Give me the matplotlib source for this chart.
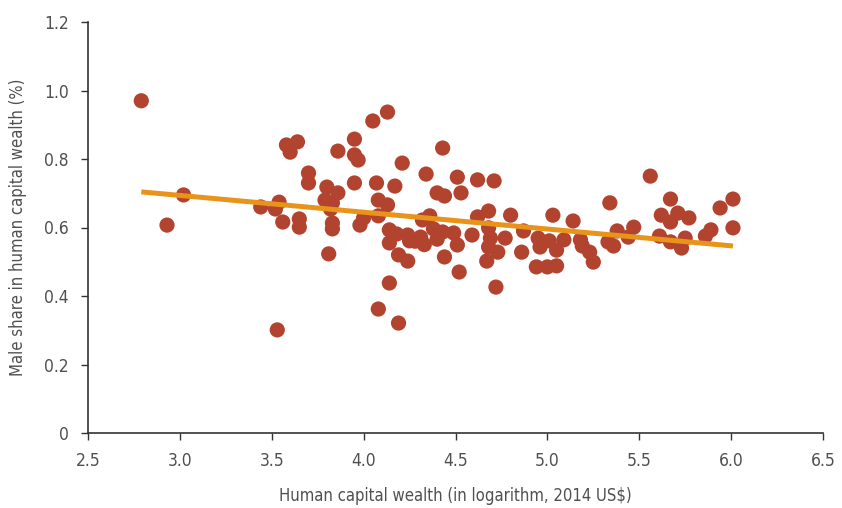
import matplotlib
matplotlib.use("Agg")
import matplotlib.pyplot as plt
from matplotlib import font_manager

# Data: human capital wealth (log, 2014 US$) vs male share in human capital wealth
hc_wealth_log = [
    2.79, 2.93, 3.02, 3.44, 3.52, 3.54, 3.56, 3.53, 3.58, 3.64,
    3.60, 3.65, 3.65, 3.70, 3.70, 3.80, 3.79, 3.82, 3.83, 3.81,
    3.83, 3.83, 3.86, 3.86, 3.95, 3.95, 3.97, 3.95, 3.98, 4.00,
    4.05, 4.07, 4.08, 4.08, 4.08, 4.13, 4.13, 4.14, 4.14, 4.14,
    4.17, 4.19, 4.19, 4.21, 4.18, 4.24, 4.25, 4.24, 4.31, 4.32,
    4.34, 4.36, 4.38, 4.40, 4.40, 4.44, 4.43, 4.43, 4.44, 4.49,
    4.51, 4.53, 4.51, 4.52, 4.59, 4.62, 4.68, 4.62, 4.71, 4.68,
    4.69, 4.68, 4.73, 4.67, 4.72, 4.77, 4.80, 4.86, 4.87, 4.94,
    5.00, 5.05, 4.95, 4.96, 5.01, 5.05, 5.09, 5.03, 5.14, 5.18,
    5.19, 5.23, 5.25, 5.34, 5.33, 5.36, 5.38, 5.44, 5.47, 5.56,
    5.61, 5.62, 5.67, 5.67, 5.67, 5.71, 5.75, 5.73, 5.77, 5.86,
    5.89, 5.94, 6.01, 6.01, 4.28, 4.33,
]
male_share = [
    0.97, 0.607, 0.695, 0.660, 0.654, 0.674, 0.616, 0.301, 0.841, 0.850,
    0.820, 0.625, 0.601, 0.759, 0.730, 0.718, 0.680, 0.654, 0.672, 0.523,
    0.613, 0.596, 0.701, 0.823, 0.858, 0.812, 0.797, 0.730, 0.607, 0.628,
    0.911, 0.730, 0.362, 0.680, 0.634, 0.937, 0.666, 0.593, 0.555, 0.438,
    0.721, 0.321, 0.520, 0.788, 0.581, 0.578, 0.561, 0.502, 0.572, 0.622,
    0.756, 0.634, 0.596, 0.566, 0.701, 0.692, 0.832, 0.587, 0.514, 0.584,
    0.549, 0.701, 0.747, 0.470, 0.578, 0.631, 0.648, 0.739, 0.736, 0.599,
    0.569, 0.543, 0.528, 0.502, 0.426, 0.569, 0.636, 0.528, 0.590, 0.485,
    0.485, 0.488, 0.569, 0.543, 0.561, 0.534, 0.564, 0.636, 0.619, 0.564,
    0.546, 0.528, 0.499, 0.672, 0.558, 0.546, 0.590, 0.572, 0.601, 0.750,
    0.575, 0.636, 0.683, 0.616, 0.558, 0.642, 0.569, 0.540, 0.628, 0.575,
    0.593, 0.657, 0.683, 0.599, 0.56, 0.55,
]
trend_x = [2.79, 6.01]
trend_y = [0.704, 0.546]

x_ticks = [2.5, 3.0, 3.5, 4.0, 4.5, 5.0, 5.5, 6.0, 6.5]
x_tick_labels = ["2.5", "3.0", "3.5", "4.0", "4.5", "5.0", "5.5", "6.0", "6.5"]
y_ticks = [0, 0.2, 0.4, 0.6, 0.8, 1.0, 1.2]
y_tick_labels = ["0", "0.2", "0.4", "0.6", "0.8", "1.0", "1.2"]

# Prefer a condensed/narrow face if one is installed
cond = None
for f in font_manager.fontManager.ttflist:
    nm = (f.name + " " + f.fname).lower()
    if ("condensed" in nm or "narrow" in nm) and "bold" not in nm and "italic" not in nm \
            and "oblique" not in nm and "semi" not in nm and "light" not in nm and "mono" not in nm:
        cond = f
        break

if cond is not None:
    fp_tick = font_manager.FontProperties(fname=cond.fname, size=12.5)
    fp_label = font_manager.FontProperties(fname=cond.fname, size=12)
else:
    fp_tick = font_manager.FontProperties(family="Roboto", size=12.5)
    fp_label = font_manager.FontProperties(family="Roboto", size=11.5)

text_color = "#505050"
fig = plt.figure(figsize=(8.42, 5.08), dpi=100)
ax = fig.add_axes([88 / 842, 1 - 433 / 508, (823 - 88) / 842, (433 - 22) / 508])

ax.scatter(hc_wealth_log, male_share, s=120, color="#b2432f", edgecolors="none", zorder=2)
ax.plot(trend_x, trend_y, color="#e8941b", linewidth=3.6, solid_capstyle="butt", zorder=3)

ax.set_xlim(2.5, 6.5)
ax.set_ylim(0, 1.2)
ax.set_xticks(x_ticks)
ax.set_xticklabels(x_tick_labels, fontproperties=fp_tick)
ax.set_yticks(y_ticks)
ax.set_yticklabels(y_tick_labels, fontproperties=fp_tick)

for side in ["top", "right"]:
    ax.spines[side].set_visible(False)
for side in ["left", "bottom"]:
    ax.spines[side].set_color("#333333")
    ax.spines[side].set_linewidth(1.2)

ax.tick_params(axis="both", direction="out", length=5, width=1, color="#333333",
               labelcolor=text_color, pad=9)

ax.set_xlabel("Human capital wealth (in logarithm, 2014 US$)", fontproperties=fp_label,
              color=text_color, labelpad=12)
ax.set_ylabel("Male share in human capital wealth (%)", fontproperties=fp_label,
              color=text_color, labelpad=12)

fig.savefig("out.png", dpi=100)
